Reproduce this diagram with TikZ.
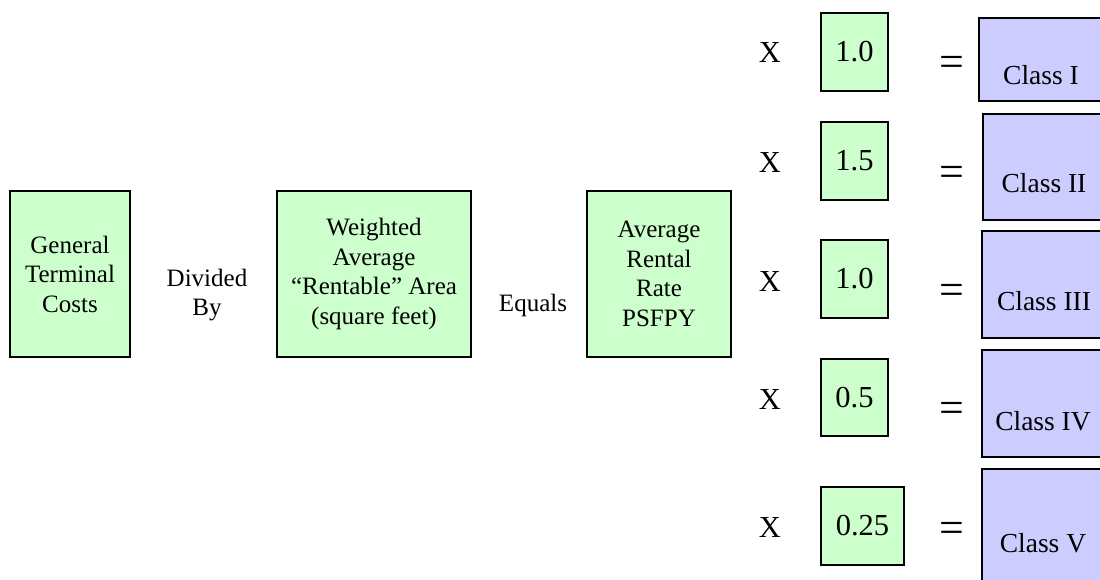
\documentclass[tikz,border=0pt]{standalone}
\usepackage{fontspec}
\setmainfont{Liberation Serif}
\definecolor{boxgreen}{HTML}{CCFFCC}
\definecolor{boxblue}{HTML}{CCCCFF}
\tikzset{
 gbox/.style={draw=black, line width=1.8pt, fill=boxgreen, inner sep=0pt, align=center, font=\fontsize{25}{29.5}\selectfont},
 numbox/.style={draw=black, line width=1.8pt, fill=boxgreen, inner sep=0pt, font=\fontsize{30.5}{36}\selectfont},
 classbox/.style={draw=black, line width=1.8pt, fill=boxblue, inner sep=0pt, anchor=north west, minimum width=130pt},
 word/.style={inner sep=0pt, align=center, font=\fontsize{25}{29.5}\selectfont},
 op/.style={inner sep=0pt, anchor=base, font=\fontsize{30.5}{36}\selectfont},
 eqsign/.style={inner sep=0pt, font=\fontsize{44}{48}\selectfont},
 classtxt/.style={inner sep=0pt, anchor=base, font=\fontsize{27.5}{32}\selectfont},
}
\begin{document}
\begin{tikzpicture}[x=1pt,y=-1pt]
\useasboundingbox (0,0) rectangle (1100,580);
\clip (0,0) rectangle (1100,580);
% left chain
\node[gbox, minimum width=120pt, minimum height=166pt] (gtc) at (70,274) {General\\Terminal\\Costs};
\node[word] (div) at (207,295) {Divided\\By};
\node[gbox, minimum width=194pt, minimum height=166pt] (wra) at (374,274) {Weighted\\Average\\``Rentable'' Area\\(square feet)};
\node[word, anchor=base] (equ) at (533,311) {Equals};
\node[gbox, minimum width=144pt, minimum height=166pt] (arr) at (659,274) {Average\\Rental\\Rate\\PSFPY};
% multipliers
\node[op] (x1) at (770,63) {X};
\node[op] (x2) at (770,173) {X};
\node[op] (x3) at (770,291) {X};
\node[op] (x4) at (770,409) {X};
\node[op] (x5) at (770,537) {X};
\node[numbox, minimum width=67pt, minimum height=78pt] (m1) at (854.5,52) {1.0};
\node[numbox, minimum width=67pt, minimum height=78pt] (m2) at (854.5,161) {1.5};
\node[numbox, minimum width=67pt, minimum height=78pt] (m3) at (854.5,279) {1.0};
\node[numbox, minimum width=67pt, minimum height=77pt] (m4) at (854.5,397.5) {0.5};
\node[numbox, minimum width=83pt, minimum height=78pt] (m5) at (862.5,526) {0.25};
% equals signs
\node[eqsign] (e1) at (952,66) {=};
\node[eqsign] (e2) at (952,176) {=};
\node[eqsign] (e3) at (952,294) {=};
\node[eqsign] (e4) at (952,412) {=};
\node[eqsign] (e5) at (952,532) {=};
% class boxes
\node[classbox, minimum height=83pt] (c1) at (978,17) {};
\node[classbox, minimum height=106pt] (c2) at (982,113) {};
\node[classbox, minimum height=107pt] (c3) at (981,230) {};
\node[classbox, minimum height=107pt] (c4) at (981,349) {};
\node[classbox, minimum height=130pt] (c5) at (981,468) {};
\node[classtxt] (t1) at (1041,85) {Class I};
\node[classtxt] (t2) at (1044,193) {Class II};
\node[classtxt] (t3) at (1044,310) {Class III};
\node[classtxt] (t4) at (1043,430) {Class IV};
\node[classtxt] (t5) at (1043,552) {Class V};
\end{tikzpicture}
\end{document}
